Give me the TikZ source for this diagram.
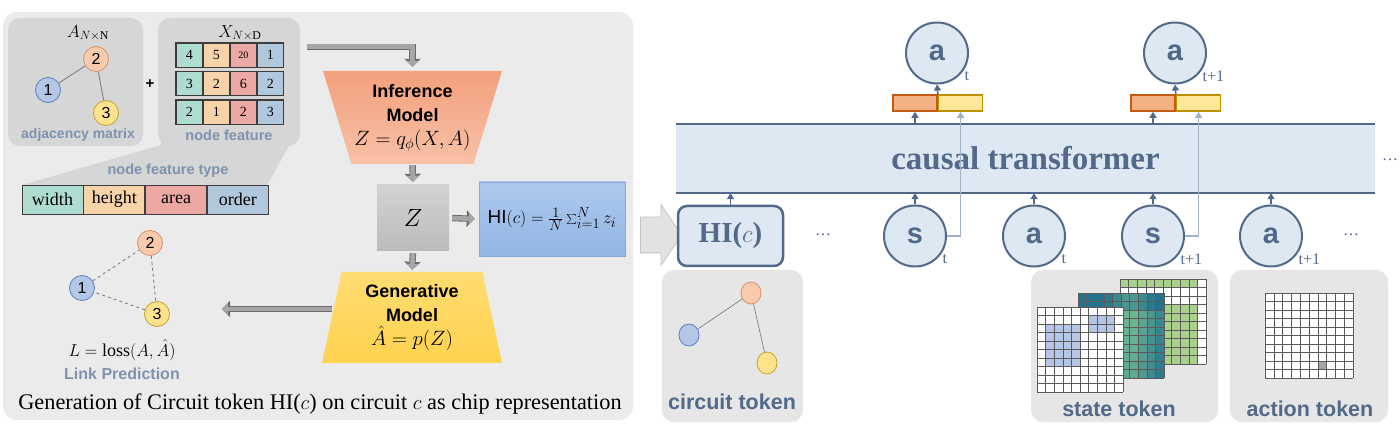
\documentclass[tikz,border=0pt]{standalone}
\usepackage{fontspec}
\setmainfont{Liberation Serif}
\setsansfont{Liberation Sans}
\usepackage{tikz}
\usetikzlibrary{arrows.meta,positioning,shapes.geometric,shapes.arrows}
\definecolor{panelgray}{HTML}{EBEBEB}
\definecolor{subgray}{HTML}{D6D6D6}
\definecolor{tokengray}{HTML}{E6E6E6}
\definecolor{labelgray}{HTML}{7F92AE}
\definecolor{tokenblue}{HTML}{53698A}
\definecolor{bandfill}{HTML}{DEE8F2}
\definecolor{skipgray}{HTML}{A3B3C7}
\definecolor{orangefill}{HTML}{F8CBAD}
\definecolor{orangeline}{HTML}{CF9372}
\definecolor{bluefill}{HTML}{B4C7E7}
\definecolor{blueline}{HTML}{5A7FBE}
\definecolor{yellowfill}{HTML}{FFE38C}
\definecolor{yellowline}{HTML}{C4A232}
\definecolor{featteal}{HTML}{AEDCD0}
\definecolor{feattan}{HTML}{F6D3A8}
\definecolor{featpink}{HTML}{ECA9A3}
\definecolor{featblue}{HTML}{B0C7DC}
\definecolor{cellline}{HTML}{3C3C3C}
\definecolor{barorange}{HTML}{F4B183}
\definecolor{barorangeline}{HTML}{C55A11}
\definecolor{baryellow}{HTML}{FFE699}
\definecolor{baryellowline}{HTML}{BF9000}
\definecolor{inferA}{HTML}{F3A07E}
\definecolor{inferB}{HTML}{F8C1A6}
\definecolor{genA}{HTML}{FFDC72}
\definecolor{genB}{HTML}{FFD24F}
\definecolor{zgrayA}{HTML}{D2D2D2}
\definecolor{zgrayB}{HTML}{BBBBBB}
\definecolor{hiA}{HTML}{ADC9EE}
\definecolor{hiB}{HTML}{92B5E3}
\definecolor{hiline}{HTML}{86A9D8}
\definecolor{arrowfill}{HTML}{A6A6A6}
\definecolor{arrowedge}{HTML}{6A6A6A}
\definecolor{feedfill}{HTML}{E2E2E2}
\definecolor{feededge}{HTML}{C4C4C4}
\definecolor{gridgreen}{HTML}{A9D18E}
\definecolor{tealdark}{HTML}{1F6E8C}
\definecolor{teallight}{HTML}{86CC96}
\definecolor{gridblue}{HTML}{B4C7E7}
\definecolor{gridgray}{HTML}{5A5A5A}
\tikzset{
  panel/.style={fill=panelgray,rounded corners=14pt,inner sep=0pt},
  subpanel/.style={fill=subgray,rounded corners=12pt,inner sep=0pt},
  tokenpanel/.style={fill=tokengray,rounded corners=12pt,inner sep=0pt},
  gnode/.style={circle,draw,line width=0.8pt,minimum size=25pt,inner sep=0pt,font=\sffamily\fontsize{16}{16}\selectfont},
  ornode/.style={gnode,fill=orangefill,draw=orangeline},
  blnode/.style={gnode,fill=bluefill,draw=blueline},
  ylnode/.style={gnode,fill=yellowfill,draw=yellowline},
  cnode/.style={ellipse,draw,line width=0.8pt,minimum width=20pt,minimum height=22pt,inner sep=0pt},
  gedge/.style={draw=gray,line width=0.9pt},
  featcell/.style={draw=cellline,line width=0.5pt,minimum width=26.5pt,minimum height=24pt,inner sep=0pt,font=\fontsize{14}{14}\selectfont},
  rowline/.style={draw=cellline,line width=1.2pt},
  typecell/.style={draw=cellline,line width=0.8pt,minimum width=61pt,minimum height=29pt,inner sep=0pt,font=\fontsize{18}{18}\selectfont},
  paneltext/.style={text=labelgray,font=\sffamily\bfseries\fontsize{14.5}{14.5}\selectfont,inner sep=0pt},
  mathlabel/.style={font=\fontsize{17}{17}\selectfont,inner sep=0pt},
  blockarrow/.style={draw=arrowfill,line width=4.6pt,-{Triangle[length=6pt,width=13pt,line width=0pt]},
    preaction={draw=arrowedge,line width=6.4pt,-{Triangle[length=8pt,width=16.5pt,line width=0pt]}}},
  model/.style={trapezium,trapezium stretches body,inner sep=0pt,align=center,font=\sffamily\bfseries\fontsize{18}{24}\selectfont},
  band/.style={fill=bandfill,minimum width=699pt,minimum height=69pt,inner sep=0pt,text=tokenblue,font=\bfseries\fontsize{33}{33}\selectfont},
  bandedge/.style={draw=tokenblue,line width=2pt},
  tokcircle/.style={ellipse,draw=tokenblue,line width=2pt,fill=bandfill,minimum width=62pt,minimum height=61pt,inner sep=0pt,text=tokenblue,font=\sffamily\bfseries\fontsize{29}{29}\selectfont},
  subtext/.style={text=tokenblue,font=\fontsize{16}{16}\selectfont,inner sep=0pt},
  tokarrow/.style={draw=tokenblue,line width=1.6pt,-{Triangle[length=6pt,width=7pt]}},
  skiparrow/.style={draw=skipgray,line width=1.6pt,-{Triangle[length=6pt,width=7pt]}},
  barcell/.style={minimum width=44pt,minimum height=16pt,inner sep=0pt,line width=1.6pt},
  tokenlabel/.style={text=tokenblue,font=\sffamily\bfseries\fontsize{21.5}{21.5}\selectfont,inner sep=0pt},
  gridline/.style={draw=gridgray,line width=0.45pt},
}
\begin{document}
\begin{tikzpicture}[x=1pt,y=-1pt]
\fill[white] (0,0) rectangle (1400,427);
\useasboundingbox (0,0) rectangle (1400,427);

% chip representation panel
\node[panel,minimum width=630pt,minimum height=408pt] (leftpanel) at (318,216) {};
\node[subpanel,minimum width=135pt,minimum height=128pt] (adjbox) at (75.5,82) {};
\node[subpanel,minimum width=142pt,minimum height=128pt] (featbox) at (229,82) {};
\fill[subgray] (22,185) -- (161,145) -- (161,136) -- (289,136) -- (289,146) -- (267,185) -- cycle;

\node[mathlabel] (alabel) at (88,33) {$A_{N\times\mathrm{N}}$};
\node[ornode] (g2) at (96,59) {2};
\node[blnode] (g1) at (48,90) {1};
\node[ylnode] (g3) at (106,113) {3};
\draw[gedge] (g1) -- (g2) -- (g3);
\node[paneltext,font=\sffamily\bfseries\fontsize{14}{14}\selectfont] (adjtext) at (78,135) {adjacency matrix};
\node[font=\sffamily\bfseries\fontsize{15}{15}\selectfont] (plus) at (150,84) {+};

\node[mathlabel] (xlabel) at (240,33) {$X_{N\times\mathrm{D}}$};
\foreach \a/\b/\c/\d [count=\r] in {4/5/{\fontsize{10}{10}\selectfont 20}/1, 3/2/6/2, 2/1/2/3}{
  \node[featcell,fill=featteal] (f\r a) at (189.25,{55+(\r-1)*28.5}) {\a};
  \node[featcell,fill=feattan,right=0pt of f\r a] (f\r b) {\b};
  \node[featcell,fill=featpink,right=0pt of f\r b] (f\r c) {\c};
  \node[featcell,fill=featblue,right=0pt of f\r c] (f\r d) {\d};
  \draw[rowline] (f\r a.north west) rectangle (f\r d.south east);
}
\node[paneltext] (feattext) at (229,135) {node feature};
\node[paneltext] (typetext) at (168,171) {node feature type};
\node[typecell,fill=featteal] (twidth) at (52.5,199.5) {width};
\node[typecell,fill=feattan,right=0pt of twidth] (theight) {height};
\node[typecell,fill=featpink,right=0pt of theight] (tarea) {area};
\node[typecell,fill=featblue,right=0pt of tarea] (torder) {order};

\node[model,shape border rotate=180,trapezium angle=67,minimum width=179pt,minimum height=93pt,top color=inferA,bottom color=inferB] (infer) at (412.5,117.5) {Inference\\Model\\\fontsize{20}{24}\selectfont$Z=q_{\phi}(X,A)$};
\node[minimum width=72pt,minimum height=66pt,inner sep=0pt,top color=zgrayA,bottom color=zgrayB,font=\fontsize{25}{25}\selectfont] (zbox) at (413,218) {$Z$};
\node[minimum width=146pt,minimum height=74pt,inner sep=0pt,top color=hiA,bottom color=hiB,draw=hiline,line width=0.6pt,font=\fontsize{19}{19}\selectfont] (hiform) at (552,219) {\textsf{HI}$(c)=\frac{1}{N}\sum_{i=1}^{N}z_i$};
\node[model,trapezium angle=73.5,minimum width=180pt,minimum height=91pt,top color=genA,bottom color=genB] (gen) at (412,317.5) {Generative\\Model\\\fontsize{20}{27}\selectfont$\hat{A}=p(Z)$};

\draw[blockarrow,shorten <=7pt,shorten >=4pt] ([yshift=-29pt]featbox.north east) -| (infer.north);
\draw[blockarrow,shorten <=1pt,shorten >=3pt] (infer.south) -- (zbox.north);
\draw[blockarrow,shorten <=3pt,shorten >=4pt] (zbox.east) -- (hiform.west);
\draw[blockarrow,shorten <=2pt,shorten >=2pt] (zbox.south) -- (gen.north);

\node[ornode] (l2) at (150,243) {2};
\node[blnode] (l1) at (82,288) {1};
\node[ylnode] (l3) at (157,314) {3};
\draw[gedge,dashed] (l1) -- (l2) -- (l3) -- (l1);
\coordinate (predend) at (222,309);
\draw[blockarrow] (gen.west |- predend) -- (predend);
\node[inner sep=0pt,font=\fontsize{18}{18}\selectfont] (loss) at (122,350) {$L=\mathrm{loss}(A,\hat{A})$};
\node[paneltext,font=\sffamily\bfseries\fontsize{16}{16}\selectfont] (linkpred) at (122,374) {Link Prediction};
\node[inner sep=0pt,font=\fontsize{22.3}{22.3}\selectfont] (caption) at (320,404) {Generation of Circuit token HI($c$) on circuit $c$ as chip representation};

\node[single arrow,fill=feedfill,draw=feededge,line width=0.8pt,minimum height=41pt,inner xsep=0pt,inner ysep=17.5pt,single arrow head extend=12.5pt,single arrow tip angle=112] (feed) at (655,235) {};

% decision transformer side
\node[band] (tf) at (1025.5,158.5) {causal transformer};
\draw[bandedge] (tf.north west) -- (tf.north east);
\draw[bandedge] (tf.south west) -- (tf.south east);
\node[text=tokenblue,font=\fontsize{16}{16}\selectfont] (dotsr) at (1390,160) {\dots};

\node[barcell,fill=barorange,draw=barorangeline] (o1) at (915,103) {};
\node[barcell,fill=baryellow,draw=baryellowline,right=0pt of o1] (y1) {};
\node[barcell,fill=barorange,draw=barorangeline] (o2) at (1153,103) {};
\node[barcell,fill=baryellow,draw=baryellowline,right=0pt of o2] (y2) {};
\node[tokcircle,label={[subtext,anchor=west,label distance=4pt]-40:t}] (at1) at (937,53) {a};
\node[tokcircle,label={[subtext,anchor=west,label distance=4pt]-40:t+1}] (at2) at (1175,53) {a};
\draw[tokarrow] (o1.south |- tf.north) -- (o1.south);
\draw[tokarrow] (o2.south |- tf.north) -- (o2.south);
\draw[tokarrow] (o1.north east) -- (at1.south);
\draw[tokarrow] (o2.north east) -- (at2.south);

\node[fill=bandfill,draw=tokenblue,line width=2.5pt,rounded corners=9pt,minimum width=105pt,minimum height=60pt,inner sep=0pt,text=tokenblue,font=\fontsize{29}{29}\selectfont] (hitok) at (730.5,236) {\textbf{HI(}$c$\textbf{)}};
\node[text=tokenblue,font=\fontsize{16}{16}\selectfont] (dotsl) at (823,235) {\dots};
\node[tokcircle,label={[subtext,anchor=west,label distance=4pt]-40:t}] (st1) at (915,236) {s};
\node[tokcircle,label={[subtext,anchor=west,label distance=4pt]-40:t}] (ac1) at (1034,236) {a};
\node[tokcircle,label={[subtext,anchor=west,label distance=4pt]-40:t+1}] (st2) at (1153,236) {s};
\node[tokcircle,label={[subtext,anchor=west,label distance=4pt]-40:t+1}] (ac2) at (1271,236) {a};
\node[text=tokenblue,font=\fontsize{16}{16}\selectfont] (dotsb) at (1351,235) {\dots};
\foreach \n in {hitok,st1,ac1,st2,ac2}
  \draw[tokarrow] (\n.north) -- (\n.north |- tf.south);
\draw[skiparrow] (st1.east) -| (y1.south);
\draw[skiparrow] (st2.east) -| (y2.south);

% token panels
\node[tokenpanel,minimum width=141pt,minimum height=152pt] (ctok) at (732.5,346) {};
\node[cnode,fill=orangefill,draw=orangeline] (c2) at (751,293) {};
\node[cnode,fill=bluefill,draw=blueline] (c1) at (689,335) {};
\node[cnode,fill=yellowfill,draw=yellowline] (c3) at (767,363) {};
\draw[gedge,line width=0.7pt] (c1) -- (c2) -- (c3);
\node[tokenlabel] (ctext) at (732,402) {circuit token};

\node[tokenpanel,minimum width=187pt,minimum height=152pt] (stok) at (1124.5,346) {};
\begin{scope}[shift={(1120,279)}]
  \fill[white] (0,0) rectangle (86,85);
  \foreach \c in {0,...,8}{
    \fill[gridgreen] (\c*8.6,0) rectangle ++(8.6,8.5);
    \foreach \r in {3,...,9} \fill[gridgreen] (\c*8.6,\r*8.5) rectangle ++(8.6,8.5);
  }
  \foreach \i in {0,...,10}{
    \draw[gridline] (\i*8.6,0) -- (\i*8.6,85);
    \draw[gridline] (0,\i*8.5) -- (86,\i*8.5);
  }
\end{scope}
\begin{scope}[shift={(1078,293)}]
  \foreach \c in {0,...,9}
    \foreach \r in {0,...,9}{
      \pgfmathtruncatemacro\mix{min(95,12+16*abs(\c-5.5)+(\r<2)*35+\r*2)}
      \fill[tealdark!\mix!teallight] (\c*8.6,\r*8.5) rectangle ++(8.6,8.5);
    }
  \foreach \i in {0,...,10}{
    \draw[gridline] (\i*8.6,0) -- (\i*8.6,85);
    \draw[gridline] (0,\i*8.5) -- (86,\i*8.5);
  }
\end{scope}
\begin{scope}[shift={(1037,307)}]
  \fill[white] (0,0) rectangle (86,85);
  \foreach \c in {1,...,4}
    \foreach \r in {2,...,6} \fill[gridblue] (\c*8.6,\r*8.5) rectangle ++(8.6,8.5);
  \foreach \c in {6,...,8}
    \foreach \r in {1,2} \fill[gridblue] (\c*8.6,\r*8.5) rectangle ++(8.6,8.5);
  \foreach \i in {0,...,10}{
    \draw[gridline] (\i*8.6,0) -- (\i*8.6,85);
    \draw[gridline] (0,\i*8.5) -- (86,\i*8.5);
  }
\end{scope}
\node[tokenlabel] (stext) at (1119,409) {state token};

\node[tokenpanel,minimum width=158pt,minimum height=152pt] (atok) at (1309,346) {};
\begin{scope}[shift={(1265,293)}]
  \fill[white] (0,0) rectangle (88,85);
  \fill[arrowfill] (6*8.8,8*8.5) rectangle ++(8.8,8.5);
  \foreach \i in {0,...,10}{
    \draw[gridline] (\i*8.8,0) -- (\i*8.8,85);
    \draw[gridline] (0,\i*8.5) -- (88,\i*8.5);
  }
\end{scope}
\node[tokenlabel] (atext) at (1310,409) {action token};
\end{tikzpicture}
\end{document}
